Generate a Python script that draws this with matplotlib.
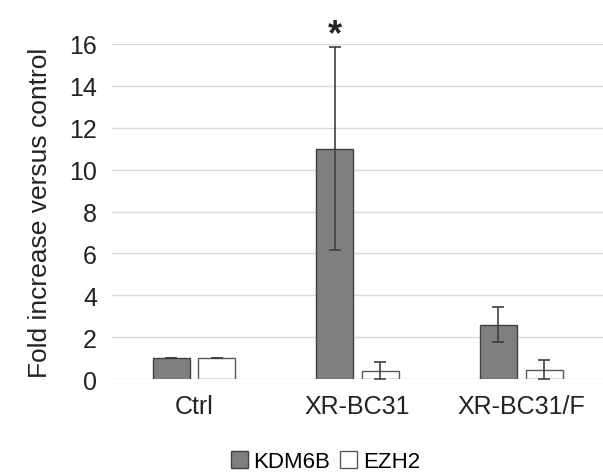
import numpy as np
import matplotlib.pyplot as plt
from matplotlib.patches import Patch

plt.rcParams['font.family'] = ['Liberation Sans', 'DejaVu Sans']

# data
groups = ['Ctrl', 'XR-BC31', 'XR-BC31/F']
kdm6b = [1.0, 11.0, 2.6]
kdm6b_err = [0.0, 4.85, 0.85]
ezh2 = [1.0, 0.4, 0.45]
ezh2_err = [0.0, 0.4, 0.45]

fig = plt.figure(figsize=(6.03, 4.77), dpi=100)
ax = fig.add_axes([0.186, 0.203, 0.814, 0.703])

x = np.arange(len(groups))
w = 0.226
off = 0.14
ekw = dict(ecolor='#404040', elinewidth=1.2, capthick=1.2)
ax.bar(x - off, kdm6b, w, color='#7f7f7f', edgecolor='#404040', linewidth=1.0,
       yerr=kdm6b_err, capsize=4, error_kw=ekw, zorder=3)
ax.bar(x + off, ezh2, w, color='white', edgecolor='#595959', linewidth=1.0,
       yerr=ezh2_err, capsize=4, error_kw=ekw, zorder=3)

ax.set_xlim(-0.5, 2.5)
ax.set_ylim(0, 16)
ax.set_yticks(range(0, 17, 2))
ax.yaxis.grid(True, color='#d9d9d9', linewidth=1.0, zorder=0)
ax.set_axisbelow(True)
for s in ax.spines.values():
    s.set_visible(False)
fs = 18
ax.tick_params(axis='both', length=0, labelsize=fs, colors='#222222')
ax.tick_params(axis='y', pad=11)
ax.tick_params(axis='x', pad=11)
ax.set_xticks(x)
ax.set_xticklabels(groups)
ax.set_ylabel('Fold increase versus control', fontsize=19, color='#222222', labelpad=12)

ax.text(x[1] - off, 16.45, '*', ha='center', va='center', fontsize=26, color='#222222',
        fontweight='bold', clip_on=False)

handles = [Patch(facecolor='#7f7f7f', edgecolor='#404040', label='KDM6B'),
           Patch(facecolor='white', edgecolor='#595959', label='EZH2')]
fig.legend(handles=handles, loc='center', bbox_to_anchor=(0.54, 0.03), ncol=2,
           frameon=False, fontsize=16, handlelength=0.75, handleheight=0.75,
           handletextpad=0.25, columnspacing=0.45)

fig.savefig('out.png', dpi=100)
